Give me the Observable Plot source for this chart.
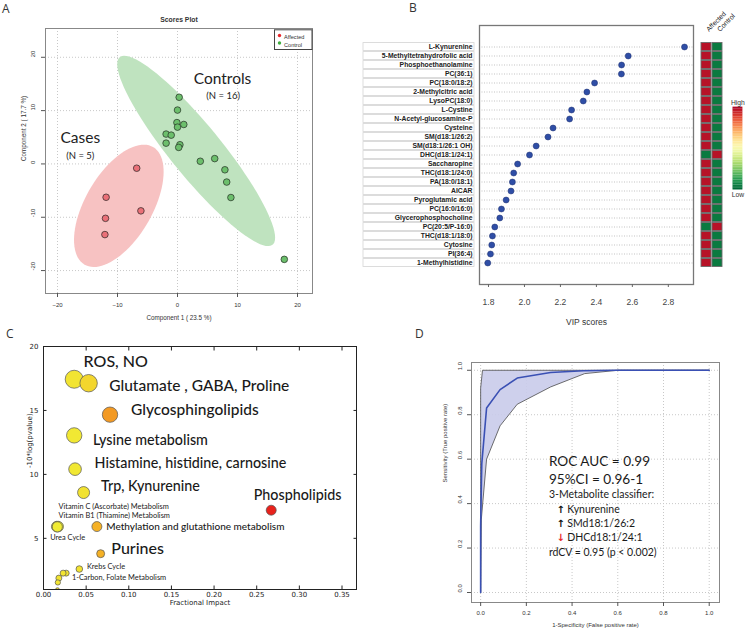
<!DOCTYPE html>
<html><head><meta charset="utf-8">
<script src="https://cdn.jsdelivr.net/npm/d3@7"></script>
<script src="https://cdn.jsdelivr.net/npm/@observablehq/plot@0.6"></script>
<style>
body{margin:0;background:#fff;}
#fig{position:relative;width:746px;height:631px;overflow:hidden;background:#fff;}
.pane{position:absolute;}
.letter{position:absolute;font-family:"Open Sans",sans-serif;font-size:12px;color:#333;line-height:14px;}
</style></head><body><div id="fig"></div>
<script>
// ---------- Panel A: PLS-DA scores ----------
const controlX = [0.28, 0, -0.1, 0, 1.05, -1.9, -1.05, -1.9, 0.4, 0.2, 3.8, 6.2, 7.9, 8.2, 8.9, 17.8];
const controlY = [12.5, 10.1, 7.75, 6.9, 7.4, 5.6, 5.4, 3.9, 3.6, 3.1, 0.5, 1.0, -1.1, -3.4, -6.3, -17.9];
const affectedX = [-6.8, -11.9, -12, -12.1, -6.1];
const affectedY = [-0.8, -6.25, -10.2, -13.25, -8.8];
const scoreTicks = [-20, -10, 0, 10, 20];

// ---------- Panel B: VIP scores ----------
const metabolites = ["L-Kynurenine","5-Methyltetrahydrofolic acid","Phosphoethanolamine","PC(36:1)","PC(18:0/18:2)","2-Methylcitric acid","LysoPC(18:0)","L-Cystine","N-Acetyl-glucosamine-P","Cysteine","SM(d18:1/26:2)","SM(d18:1/26:1 OH)","DHC(d18:1/24:1)","Saccharopine","THC(d18:1/24:0)","PA(18:0/18:1)","AICAR","Pyroglutamic acid","PC(16:0/16:0)","Glycerophosphocholine","PC(20:5/P-16:0)","THC(d18:1/18:0)","Cytosine","PI(36:4)","1-Methylhistidine"];
const vipScores = [2.89, 2.577, 2.54, 2.539, 2.39, 2.347, 2.327, 2.262, 2.251, 2.159, 2.131, 2.065, 2.028, 1.962, 1.94, 1.933, 1.925, 1.898, 1.872, 1.863, 1.835, 1.822, 1.818, 1.811, 1.796];
// relative level in each group (1 = high, 0 = low)
const affectedLevel = [1,1,1,1,1,1,1,1,1,1,1,1,0,1,1,1,1,1,1,1,0,1,1,1,1];
const controlLevel  = [0,0,0,0,0,0,0,0,0,0,0,0,1,0,0,0,0,0,0,0,1,0,0,0,0];
const groups = ["Affected", "Control"];
const vipTicks = [1.8, 2.0, 2.2, 2.4, 2.6, 2.8];

// ---------- Panel C: pathway impact ----------
const pathwayNames = ["ROS, NO","Glutamate, GABA, Proline","Glycosphingolipids","Lysine metabolism","Histamine, histidine, carnosine","Trp, Kynurenine","Phospholipids","Methylation and glutathione metabolism","Vitamin C (Ascorbate) Metabolism","Vitamin B1 (Thiamine) Metabolism","Urea Cycle","Purines","Krebs Cycle","1-Carbon, Folate Metabolism","unlabelled 1","unlabelled 2","unlabelled 3","unlabelled 4"];
const fractionalImpact = [0.036, 0.0529, 0.078, 0.036, 0.037, 0.047, 0.267, 0.0626, 0.0155, 0.0172, 0.0162, 0.067, 0.042, 0.0266, 0.023, 0.018, 0.0168, 0.0164];
const negLogP = [17.44, 17.13, 14.67, 13.05, 10.41, 8.58, 7.2, 5.92, 5.92, 5.92, 5.9, 3.8, 2.6, 2.28, 2.28, 1.89, 1.55, 0.98];
const pathwaySize = [81, 76, 59, 59, 40, 36, 25, 25, 28, 28, 26, 16, 11, 9, 9, 9, 7, 4];
const pathwayHeat = [0.08, 0.2, 0.58, 0.05, 0.05, 0.1, 1, 0.5, 0.0, 0.0, 0.02, 0.5, 0.1, 0.08, 0.08, 0.08, 0.08, 0.08];
const impactTicks = [0, 0.05, 0.1, 0.15, 0.2, 0.25, 0.3, 0.35];
const pTicks = [5, 10, 15, 20];
const annText = ["ROS, NO","Glutamate , GABA, Proline","Glycosphingolipids","Lysine metabolism","Histamine, histidine, carnosine","Trp, Kynurenine","Phospholipids","Vitamin C (Ascorbate) Metabolism","Vitamin B1 (Thiamine) Metabolism","Methylation and glutathione metabolism","Urea Cycle","Purines","Krebs Cycle","1-Carbon, Folate Metabolism"];
const annX = [0.047, 0.0771, 0.1026, 0.058, 0.0599, 0.0674, 0.2465, 0.0176, 0.0176, 0.0736, 0.0079, 0.0795, 0.0509, 0.0333];
const annY = [18.82, 16.92, 15.04, 12.63, 10.86, 9.08, 8.38, 7.46, 6.79, 5.89, 5.03, 4.2, 2.76, 1.9];
const annSize = [16, 15.5, 15.5, 14.3, 14.3, 14.3, 14.3, 7.4, 7.4, 10, 7.4, 16, 7.4, 7.4];

// ---------- Panel D: ROC ----------
const rocFpr = [0, 0, 0.005, 0.026, 0.085, 0.16, 0.306, 0.45, 0.6, 1];
const rocTpr = [0, 0.3, 0.58, 0.83, 0.913, 0.965, 0.99, 0.998, 1, 1];
const ciUpperFpr = [0, 0, 0.008, 1];
const ciUpperTpr = [0, 0.92, 1, 1];
const ciLowerFpr = [0, 0.003, 0.026, 0.085, 0.16, 0.306, 0.455, 0.6, 1];
const ciLowerTpr = [0, 0.33, 0.6, 0.75, 0.847, 0.925, 0.985, 1, 1];
const rocTicks = [0, 0.2, 0.4, 0.6, 0.8, 1.0];
const rocText = ["ROC AUC = 0.99", "95%CI = 0.96-1", "3-Metabolite classifier:", "Kynurenine", "SMd18:1/26:2", "DHCd18:1/24:1", "rdCV = 0.95 (p < 0.002)"];
const classifierDirection = ["up", "up", "down"];

// ================= helpers =================
const fig = document.getElementById("fig");
function place(el, left, top) {
  const d = document.createElement("div");
  d.className = "pane"; d.style.left = left + "px"; d.style.top = top + "px";
  d.appendChild(el); fig.appendChild(d);
}
function letter(t, left, top) {
  const d = document.createElement("div");
  d.className = "letter"; d.textContent = t; d.style.left = left + "px"; d.style.top = top + "px";
  fig.appendChild(d);
}
// 95% confidence ellipse computed from the group's scores
function confidenceEllipse(xs, ys) {
  const n = xs.length, mx = d3.mean(xs), my = d3.mean(ys);
  let sxx = 0, syy = 0, sxy = 0;
  for (let i = 0; i < n; i++) { const dx = xs[i]-mx, dy = ys[i]-my; sxx += dx*dx; syy += dy*dy; sxy += dx*dy; }
  sxx /= n-1; syy /= n-1; sxy /= n-1;
  const tr = sxx + syy, det = sxx*syy - sxy*sxy, disc = Math.sqrt(tr*tr/4 - det);
  const l1 = tr/2 + disc, l2 = tr/2 - disc;
  const ang = Math.atan2(l1 - sxx, sxy);
  const t = Math.sqrt(-2*Math.log(0.05));
  return d3.range(0, 360, 4).map(a => {
    const th = a*Math.PI/180, u = t*Math.sqrt(l1)*Math.cos(th), v = t*Math.sqrt(l2)*Math.sin(th);
    return {x: mx + u*Math.cos(ang) - v*Math.sin(ang), y: my + u*Math.sin(ang) + v*Math.cos(ang)};
  });
}

// ================= Panel A =================
const controls = controlX.map((x, i) => ({x, y: controlY[i]}));
const affected = affectedX.map((x, i) => ({x, y: affectedY[i]}));
const ellControl = confidenceEllipse(controlX, controlY);
const ellAffected = confidenceEllipse(affectedX, affectedY);
const plotA = Plot.plot({
  width: 360, height: 330, marginLeft: 45, marginRight: 48, marginTop: 28, marginBottom: 37,
  style: {fontFamily: "Liberation Sans, Arial, sans-serif", fontSize: "6px", color: "#333", background: "transparent", overflow: "visible"},
  x: {domain: [-22, 22.5]}, y: {domain: [-24.3, 25.4]},
  marks: [
    Plot.gridX(scoreTicks, {stroke: "#c8c8c8", strokeOpacity: 1, strokeDasharray: "1,2"}),
    Plot.gridY(scoreTicks, {stroke: "#c8c8c8", strokeOpacity: 1, strokeDasharray: "1,2"}),
    Plot.line(ellControl, {x: "x", y: "y", fill: "#bfe3bf", stroke: "none", curve: "linear-closed"}),
    Plot.line(ellAffected, {x: "x", y: "y", fill: "#f7c2c2", stroke: "none", curve: "linear-closed"}),
    Plot.dot(controls, {x: "x", y: "y", r: 3.3, fill: "#6cbf6c", stroke: "#2f3f2f", strokeWidth: 0.8}),
    Plot.dot(affected, {x: "x", y: "y", r: 3.3, fill: "#ea7078", stroke: "#3f2f2f", strokeWidth: 0.8}),
    Plot.frame({stroke: "#888"}),
    Plot.axisX(scoreTicks, {tickSize: 4, tickPadding: 5, label: null, stroke: "#555"}),
    Plot.axisY(scoreTicks, {tickSize: 4, text: null, label: null, stroke: "#555"}),
    Plot.text(scoreTicks, {y: d => d, text: d => String(d), frameAnchor: "left", dx: -12, rotate: -90, fill: "#333"}),
    Plot.text(["Component 1 ( 23.5 %)"], {frameAnchor: "bottom", dy: 26, fontSize: 6.3}),
    Plot.text(["Component 2 ( 17.7 %)"], {frameAnchor: "left", dx: -22, rotate: -90, fontSize: 6.3}),
    Plot.text(["Scores Plot"], {frameAnchor: "top", dy: -11, fontWeight: "bold", fontSize: 6.8}),
    // legend
    Plot.frame({stroke: "#444", fill: "white", insetLeft: 229, insetRight: 0.5, insetTop: 1.3, insetBottom: 244}),
    Plot.dot(["Affected"], {frameAnchor: "top-right", dx: -33, dy: 7, r: 1.7, fill: "#e8262a"}),
    Plot.dot(["Control"], {frameAnchor: "top-right", dx: -33, dy: 14.5, r: 1.7, fill: "#3fae3f"}),
    Plot.text(["Affected"], {frameAnchor: "top-right", dx: -28.5, dy: 7, textAnchor: "start", fontSize: 5.6}),
    Plot.text(["Control"], {frameAnchor: "top-right", dx: -28.5, dy: 14.5, textAnchor: "start", fontSize: 5.6}),
    // annotations
    Plot.text(["Controls"], {x: 7.5, y: 15.9, fontFamily: "Lato", fontSize: 15.5, fill: "#222"}),
    Plot.text(["(N = 16)"], {x: 7.6, y: 12.75, fontFamily: "Lato", fontSize: 9.5, fill: "#222"}),
    Plot.text(["Cases"], {x: -16.2, y: 4.9, fontFamily: "Lato", fontSize: 15.5, fill: "#222"}),
    Plot.text(["(N = 5)"], {x: -16.2, y: 1.5, fontFamily: "Lato", fontSize: 9.5, fill: "#222"})
  ]
});
place(plotA, 0, 0);

// ================= Panel B =================
const vip = metabolites.map((name, i) => ({name, vip: vipScores[i]}));
const yB = {type: "band", domain: metabolites, paddingInner: 0, paddingOuter: 0.5, axis: null};
const labelsB = Plot.plot({
  width: 111, height: 331, marginLeft: 0, marginRight: 0, marginTop: 25, marginBottom: 47,
  style: {fontFamily: "Liberation Sans, Arial, sans-serif", background: "transparent", overflow: "visible"},
  y: yB,
  marks: [
    Plot.cell(metabolites, {y: d => d, fill: "white", stroke: "#d4d4d4", strokeWidth: 0.8, insetTop: 0.6, insetBottom: 0.6}),
    Plot.text(metabolites, {y: d => d, text: d => d, frameAnchor: "right", dx: -2, fontWeight: "bold", fontSize: 6.8, fill: "#222"})
  ]
});
place(labelsB, 363, 0);
const plotB = Plot.plot({
  width: 340, height: 331, marginLeft: 119, marginRight: 7, marginTop: 25, marginBottom: 47,
  style: {fontFamily: "Liberation Sans, Arial, sans-serif", fontSize: "8.5px", color: "#444", background: "transparent", overflow: "visible"},
  x: {domain: [1.75, 2.94]}, y: yB,
  marks: [
    Plot.ruleY(metabolites, {y: d => d, stroke: "#aaa", strokeDasharray: "1,1.5", strokeWidth: 0.7}),
    Plot.dot(vip, {x: "vip", y: "name", r: 3, fill: "#2f4ea6", stroke: "#1d2f6e", strokeWidth: 0.5}),
    Plot.frame({stroke: "#777", strokeWidth: 1.3}),
    Plot.axisX(vipTicks, {tickSize: 3, tickPadding: 11, tickFormat: d3.format(".1f"), label: null, stroke: "#666"}),
    Plot.text(["VIP scores"], {frameAnchor: "bottom", dy: 40, fontSize: 8.5, fill: "#333"})
  ]
});
place(plotB, 360, 0);
const heat = [];
metabolites.forEach((m, i) => {
  heat.push({name: m, group: "Affected", level: affectedLevel[i]});
  heat.push({name: m, group: "Control", level: controlLevel[i]});
});
const heatColor = {type: "linear", scheme: "RdYlGn", reverse: true, domain: [-0.04, 1.04]};
const plotHeat = Plot.plot({
  width: 26, height: 331, marginLeft: 2.5, marginRight: 2.5, marginTop: 25, marginBottom: 47,
  style: {fontFamily: "Liberation Sans, Arial, sans-serif", fontSize: "6.5px", color: "#222", background: "transparent", overflow: "visible"},
  x: {type: "band", domain: groups, paddingInner: 0.12, paddingOuter: 0, axis: null},
  y: yB, color: heatColor,
  marks: [
    Plot.cell(heat, {x: "group", y: "name", fill: "level", stroke: "#6a6a6a", strokeWidth: 0.9, insetTop: 0.5, insetBottom: 0.5}),
    Plot.text(groups, {x: d => d, frameAnchor: "top", dy: 3, dx: -1, rotate: -45, textAnchor: "start", fontSize: 6.8, fill: "#222"})
  ]
});
place(plotHeat, 698, 0);
const plotScale = Plot.plot({
  width: 20, height: 125, marginLeft: 5, marginRight: 4, marginTop: 13, marginBottom: 20,
  style: {fontFamily: "Liberation Sans, Arial, sans-serif", fontSize: "7.5px", color: "#333", background: "transparent", overflow: "visible"},
  x: {axis: null}, y: {domain: [0, 1], axis: null}, color: {type: "linear", scheme: "RdYlGn", reverse: true, domain: [0, 1]},
  marks: [
    Plot.rect(d3.range(0, 1, 0.02), {y1: d => d, y2: d => d + 0.021, fill: d => d}),
    Plot.text(["High"], {frameAnchor: "top", dy: -8, fontSize: 7.5}),
    Plot.text(["Low"], {frameAnchor: "bottom", dy: 8, fontSize: 7.5})
  ]
});
place(plotScale, 728, 95);

// ================= Panel C =================
const pathways = pathwayNames.map((name, i) => ({name, impact: fractionalImpact[i], p: negLogP[i], size: pathwaySize[i], heat: pathwayHeat[i]}));
const ann = annText.map((t, i) => ({t, x: annX[i], y: annY[i], s: annSize[i]}));
const plotC = Plot.plot({
  width: 380, height: 301, marginLeft: 43, marginRight: 24, marginTop: 16, marginBottom: 42,
  style: {fontFamily: "DejaVu Sans, sans-serif", fontSize: "7px", color: "#222", background: "transparent", overflow: "visible"},
  x: {domain: [0, 0.367]}, y: {domain: [1, 20]},
  r: {type: "sqrt", domain: [0, 81], range: [0, 9]},
  color: {type: "linear", domain: [0, 0.5, 1], range: ["#f1ee34", "#f5b125", "#e8221c"]},
  marks: [
    Plot.dot(pathways, {x: "impact", y: "p", r: "size", fill: "heat", stroke: "#555", strokeWidth: 0.7, clip: true}),
    ...ann.map(a => Plot.text([a], {x: "x", y: "y", text: "t", textAnchor: "start", fontFamily: "Lato", fontWeight: a.s > 9 ? 500 : 400, fontSize: a.s, fill: "#1a1a1a"})),
    Plot.frame({stroke: "#222"}),
    Plot.axisX(impactTicks, {tickSize: 0, tickPadding: 2.5, tickFormat: d3.format(".2f"), label: null}),
    Plot.axisY(pTicks, {tickSize: 0, tickPadding: 5, label: null}),
    Plot.axisX(impactTicks, {anchor: "bottom", tickSize: 3.5, dy: -3.5, text: null, label: null}),
    Plot.axisX(impactTicks, {anchor: "top", tickSize: 3.5, dy: 3.5, text: null, label: null}),
    Plot.axisY(pTicks, {anchor: "left", tickSize: 3.5, dx: 3.5, text: null, label: null}),
    Plot.axisY(pTicks, {anchor: "right", tickSize: 3.5, dx: -3.5, text: null, label: null}),
    Plot.text(["Fractional Impact"], {frameAnchor: "bottom", dy: 15.5, fontSize: 7}),
    Plot.text(["-10*log(pvalue)"], {frameAnchor: "left", dx: -14, rotate: -90, fontSize: 7})
  ]
});
place(plotC, 0, 330);

// ================= Panel D =================
const roc = rocFpr.map((x, i) => ({x, y: rocTpr[i]}));
const ciUpper = ciUpperFpr.map((x, i) => ({x, y: ciUpperTpr[i]}));
const ciLower = ciLowerFpr.map((x, i) => ({x, y: ciLowerTpr[i]}));
const ciBand = ciUpper.concat(ciLower.slice().reverse());
const tx = 0.2987;
const plotD = Plot.plot({
  width: 366, height: 301, marginLeft: 91, marginRight: 27, marginTop: 32, marginBottom: 29,
  style: {fontFamily: "Liberation Sans, Arial, sans-serif", fontSize: "6px", color: "#333", background: "transparent", overflow: "visible"},
  x: {domain: [-0.04, 1.045]}, y: {domain: [-0.045, 1.035]},
  marks: [
    Plot.gridX(rocTicks, {stroke: "#c8c8c8", strokeOpacity: 1, strokeDasharray: "1,2"}),
    Plot.gridY(rocTicks, {stroke: "#c8c8c8", strokeOpacity: 1, strokeDasharray: "1,2"}),
    Plot.line(ciBand, {x: "x", y: "y", fill: "#c9cbea", fillOpacity: 0.9, stroke: "none", curve: "linear-closed"}),
    Plot.line(ciUpper, {x: "x", y: "y", stroke: "#4a4a4a", strokeWidth: 0.8}),
    Plot.line(ciLower, {x: "x", y: "y", stroke: "#4a4a4a", strokeWidth: 0.8}),
    Plot.line(roc, {x: "x", y: "y", stroke: "#3a50b4", strokeWidth: 1.6}),
    Plot.frame({stroke: "#888"}),
    Plot.axisX(rocTicks, {tickSize: 4, tickPadding: 4, tickFormat: d3.format(".1f"), label: null, stroke: "#555"}),
    Plot.axisY(rocTicks, {tickSize: 4, text: null, label: null, stroke: "#555"}),
    Plot.text(rocTicks, {y: d => d, text: d => d.toFixed(1), frameAnchor: "left", dx: -11, rotate: -90}),
    Plot.text(["1-Specificity (False positive rate)"], {frameAnchor: "bottom", dy: 24.5, fontSize: 6}),
    Plot.text(["Sensitivity (True positive rate)"], {frameAnchor: "left", dx: -26, rotate: -90, fontSize: 6}),
    Plot.text([rocText[0]], {x: tx, y: 0.591, textAnchor: "start", fontFamily: "Lato", fontSize: 13.6, fill: "#1a1a1a"}),
    Plot.text([rocText[1]], {x: tx, y: 0.508, textAnchor: "start", fontFamily: "Lato", fontSize: 13.6, fill: "#1a1a1a"}),
    Plot.text([rocText[2]], {x: tx, y: 0.439, textAnchor: "start", fontFamily: "Lato", fontSize: 10.5, fill: "#1a1a1a"}),
    Plot.text(rocText.slice(3, 6), {x: 0.379, y: [0.373, 0.311, 0.248], text: d => d, textAnchor: "start", fontFamily: "Lato", fontSize: 10.5, fill: "#1a1a1a"}),
    Plot.text(classifierDirection, {x: 0.35, y: [0.373, 0.311, 0.248], text: d => d === "up" ? "↑" : "↓", fill: d => d === "up" ? "#111" : "#e8262a", fontFamily: "DejaVu Sans", fontWeight: "bold", fontSize: 10}),
    Plot.text([rocText[6]], {x: tx, y: 0.180, textAnchor: "start", fontFamily: "Lato", fontSize: 10.5, fill: "#1a1a1a"})
  ]
});
place(plotD, 380, 330);

letter("A", 2, 2);
letter("B", 409, 1);
letter("C", 6, 327);
letter("D", 415, 327);
</script>
</body></html>
